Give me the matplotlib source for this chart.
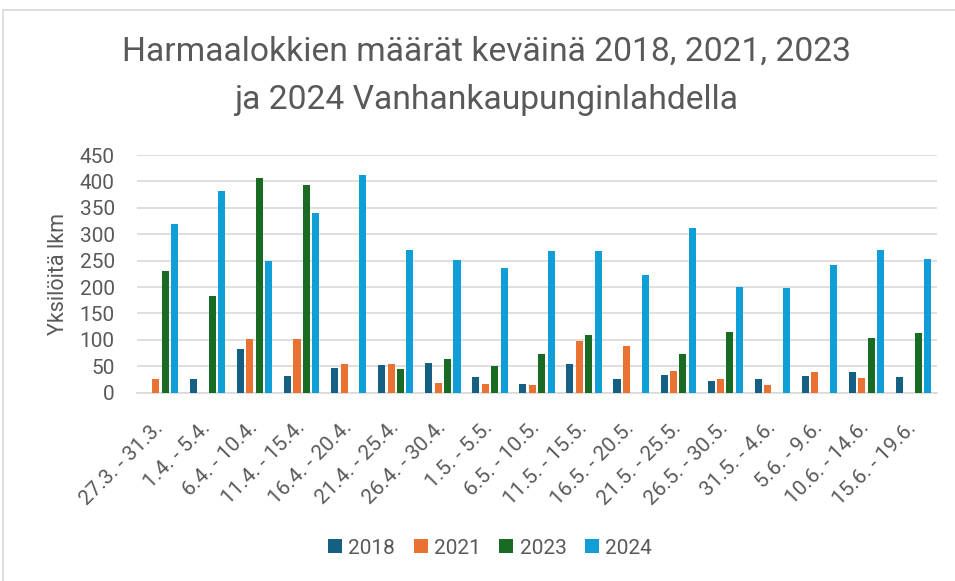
import numpy as np
import matplotlib
matplotlib.use("Agg")
import matplotlib.pyplot as plt
from matplotlib.patches import Rectangle

plt.rcParams['font.family'] = ['Roboto', 'DejaVu Sans']

periodit = ["27.3. - 31.3.", "1.4. - 5.4.", "6.4. - 10.4.", "11.4. - 15.4.",
            "16.4. - 20.4.", "21.4. - 25.4.", "26.4. - 30.4.", "1.5. - 5.5.",
            "6.5. - 10.5.", "11.5. - 15.5.", "16.5. - 20.5.", "21.5. - 25.5.",
            "26.5. - 30.5.", "31.5. - 4.6.", "5.6. - 9.6.", "10.6. - 14.6.",
            "15.6. - 19.6."]
nan = np.nan
v2018 = [nan, 25, 83, 31, 46, 53, 57, 30, 17, 55, 25, 33, 23, 25, 32, 39, 30]
v2021 = [25, nan, 102, 102, 54, 54, 18, 16, 14, 97, 88, 41, 26, 14, 40, 28, nan]
v2023 = [230, 184, 406, 393, nan, 45, 64, 50, 73, 110, nan, 73, 115, nan, nan, 104, 113]
v2024 = [320, 381, 249, 340, 413, 271, 252, 237, 268, 268, 222, 311, 200, 198, 242, 271, 254]
vuodet = ["2018", "2021", "2023", "2024"]
varit = ["#156082", "#E97132", "#196B24", "#0F9ED5"]

harmaa = "#595959"
fig = plt.figure(figsize=(9.55, 5.81), dpi=100)
ax = fig.add_axes([137/955, 1 - 392.7/581, 800/955, (392.7 - 155)/581])

x = np.arange(len(periodit))
leveys = 0.15
vali = 0.2
for i, (arvot, vuosi, vari) in enumerate(zip([v2018, v2021, v2023, v2024], vuodet, varit)):
    ax.bar(x + (i - 1.5) * vali, arvot, width=leveys, color=vari, label=vuosi, zorder=3)

ax.set_xlim(-0.5, len(periodit) - 0.5)
ax.set_ylim(0, 450)
ax.set_yticks(range(0, 451, 50))
ax.grid(axis='y', color="#D9D9D9", linewidth=1.2, zorder=0)
for s in ["top", "right", "left"]:
    ax.spines[s].set_visible(False)
ax.spines["bottom"].set_color("#D9D9D9")
ax.spines["bottom"].set_linewidth(1.2)
ax.tick_params(axis='both', length=0, colors=harmaa, labelsize=15)
ax.tick_params(axis='y', pad=16)
ax.set_xticks(x)
ax.set_xticklabels(periodit, rotation=45, ha='right', va='center', rotation_mode='anchor')
ax.tick_params(axis='x', pad=23)
ax.set_ylabel("Yksilöitä lkm", color=harmaa, fontsize=15.5, labelpad=8)

fig.text(486/955, 1 - 52/581, "Harmaalokkien määrät keväinä 2018, 2021, 2023",
         ha='center', va='center', fontsize=24.2, color=harmaa)
fig.text(486/955, 1 - 100/581, "ja 2024 Vanhankaupunginlahdella",
         ha='center', va='center', fontsize=24.2, color=harmaa)

fig.legend(loc='center', bbox_to_anchor=(490/955, 1 - 548/581), ncol=4, frameon=False,
           fontsize=15, labelcolor=harmaa, handlelength=0.67, handleheight=0.67,
           handletextpad=0.3, columnspacing=0.9)

fig.patches.append(Rectangle((3/955, -0.1), 1.1, 1 - 10/581 + 0.1, transform=fig.transFigure,
                             fill=False, edgecolor="#D9D9D9", linewidth=1.2))

fig.savefig("out.png", dpi=100)
